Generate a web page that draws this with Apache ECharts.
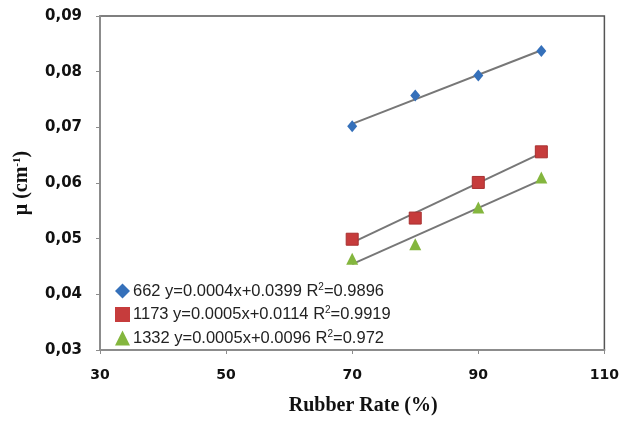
<!DOCTYPE html>
<html>
<head>
<meta charset="utf-8">
<script src="https://cdn.jsdelivr.net/npm/echarts@6/dist/echarts.min.js"></script>
<style>
  html, body { margin: 0; padding: 0; background: #fff; }
  #chart { width: 622px; height: 421px; }
</style>
</head>
<body>
<div id="chart"></div>
<script>
// Rubber rate (%) on x, attenuation coefficient on y
const rubberRate = [70, 80, 90, 100];
const mu662 = [0.0702, 0.0757, 0.0793, 0.0837];
const mu1173 = [0.0499, 0.0537, 0.0601, 0.0656];
const mu1332 = [0.0464, 0.0490, 0.0556, 0.0610];

const seriesNames = ['662', '1173', '1332'];
const fitLabels = [
    'y=0.0004x+0.0399 R{sup|2}=0.9896',
    'y=0.0005x+0.0114 R{sup|2}=0.9919',
    'y=0.0005x+0.0096 R{sup|2}=0.972'
];
const yTickLabels = ['0,03', '0,04', '0,05', '0,06', '0,07', '0,08', '0,09'];
const xTickLabels = ['30', '50', '70', '90', '110'];

const colors = ['#3570BA', '#C63C3C', '#84B63E'];
const symbols = ['diamond', 'rect', 'triangle'];
const allValues = [mu662, mu1173, mu1332];

// least squares trend line across the measured range
function trend(xs, ys) {
    const n = xs.length;
    const mx = xs.reduce((a, b) => a + b, 0) / n;
    const my = ys.reduce((a, b) => a + b, 0) / n;
    let num = 0, den = 0;
    xs.forEach((x, i) => { num += (x - mx) * (ys[i] - my); den += (x - mx) * (x - mx); });
    const a = num / den, b = my - a * mx;
    const x0 = xs[0], x1 = xs[n - 1];
    return [[x0, a * x0 + b], [x1, a * x1 + b]];
}

const series = [];
allValues.forEach((vals, i) => {
    series.push({
        name: seriesNames[i] + '-fit',
        type: 'line',
        data: trend(rubberRate, vals),
        symbol: 'none',
        lineStyle: { color: '#777', width: 2 },
        z: 2,
        silent: true
    });
});
allValues.forEach((vals, i) => {
    series.push({
        name: seriesNames[i],
        type: 'scatter',
        data: rubberRate.map((x, j) => [x, vals[j]]),
        symbol: symbols[i],
        symbolSize: i === 0 ? [10, 12] : 12,
        itemStyle: {
            color: colors[i], opacity: 1,
            borderColor: i === 1 ? '#a83030' : colors[i], borderWidth: i === 1 ? 1 : 0
        },
        z: 5
    });
});

const chart = echarts.init(document.getElementById('chart'));
chart.setOption({
    animation: false,
    grid: {
        left: 100, right: 15, top: 16, bottom: 68,
        show: true, borderColor: '#555', borderWidth: 1.5
    },
    legend: {
        data: seriesNames.map(n => ({ name: n, itemStyle: { borderWidth: 0, opacity: 1 } })),
        orient: 'vertical',
        left: 110,
        top: 277,
        itemWidth: 15,
        itemHeight: 15,
        itemGap: 6,
        formatter: function (name) {
            return name + ' ' + fitLabels[seriesNames.indexOf(name)];
        },
        textStyle: {
            fontFamily: 'Liberation Sans',
            fontSize: 16.5,
            color: '#222',
            padding: [0, 0, 0, -2],
            rich: {
                sup: { fontSize: 10, verticalAlign: 'top', padding: [0, 0, 8, 0], fontFamily: 'Liberation Sans', color: '#222' }
            }
        }
    },
    xAxis: {
        type: 'value',
        min: 30, max: 110, interval: 20,
        name: 'Rubber Rate (%)',
        nameLocation: 'middle',
        nameGap: 46,
        nameTextStyle: {
            fontFamily: 'Liberation Serif', fontWeight: 'bold', fontSize: 20, color: '#111',
            padding: [0, 0, 0, 22]
        },
        axisLine: { lineStyle: { color: '#8c8c8c', width: 2 } },
        axisTick: { show: true, length: 4, lineStyle: { color: '#8c8c8c' } },
        splitLine: { show: false },
        axisLabel: {
            margin: 18,
            fontFamily: 'DejaVu Sans', fontWeight: 'bold', fontSize: 14, color: '#111',
            formatter: function (v) { return xTickLabels[(v - 30) / 20]; }
        }
    },
    yAxis: {
        type: 'value',
        min: 0.03, max: 0.09, interval: 0.01,
        name: 'μ (cm{sup|-1})',
        nameLocation: 'middle',
        nameGap: 68,
        nameTextStyle: {
            fontFamily: 'Liberation Serif', fontWeight: 'bold', fontSize: 20, color: '#111',
            rich: {
                sup: { fontFamily: 'Liberation Serif', fontWeight: 'bold', fontSize: 11, verticalAlign: 'top', padding: [0, 0, 8, 0], color: '#111' }
            }
        },
        axisLine: { show: true, lineStyle: { color: '#8c8c8c', width: 2 } },
        axisTick: { show: true, length: 4, lineStyle: { color: '#8c8c8c' } },
        splitLine: { show: false },
        axisLabel: {
            margin: 18,
            fontFamily: 'DejaVu Sans', fontWeight: 'bold', fontSize: 15, color: '#111',
            formatter: function (v) { return yTickLabels[Math.round((v - 0.03) / 0.01)]; }
        }
    },
    series: series
});
</script>
</body>
</html>
